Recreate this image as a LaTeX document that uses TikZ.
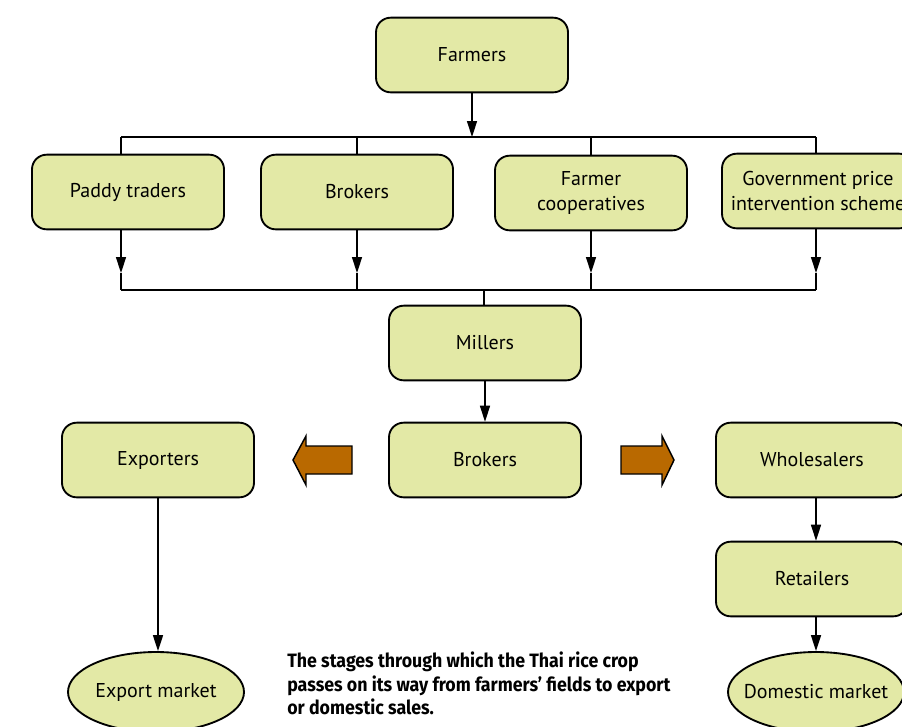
\documentclass[tikz,border=0pt]{standalone}
\usepackage{fontspec}
\setmainfont{PT Sans}
\newfontfamily\capfont[FakeStretch=0.92]{Fira Sans}
\usetikzlibrary{arrows.meta,shapes.geometric}
\definecolor{boxfill}{RGB}{227,233,166}
\definecolor{blockarrow}{RGB}{185,105,0}
\tikzset{
  stagebox/.style={draw=black, line width=1.4pt, fill=boxfill, rounded corners=11pt,
    minimum width=144pt, minimum height=56pt, inner sep=0pt, align=center,
    font=\fontsize{15}{19}\selectfont},
  marketbox/.style={draw=black, line width=1.4pt, fill=boxfill, ellipse,
    minimum width=132pt, minimum height=60pt, inner ysep=0pt, inner xsep=-8pt,
    font=\fontsize{15}{18}\selectfont},
  conn/.style={draw=black, line width=1.1pt},
  arr/.style={conn, -{Triangle[length=12pt,width=7.5pt]}},
  bigarrow/.style={draw=black, line width=1.1pt, fill=blockarrow}
}
\begin{document}
\begin{tikzpicture}[x=0.75pt,y=-0.75pt]
\useasboundingbox (0,0) rectangle (902,726);
% nodes
\node[stagebox] (farmers) at (472,55) {Farmers};
\node[stagebox] (paddy) at (128,192) {Paddy traders};
\node[stagebox] (brokers1) at (357,192) {Brokers};
\node[stagebox] (coop) at (591,193) {Farmer\\cooperatives};
\node[stagebox] (gov) at (818,191) {Government price\\intervention scheme};
\node[stagebox] (millers) at (485,343) {Millers};
\node[stagebox] (brokers2) at (485,460) {Brokers};
\node[stagebox] (exporters) at (158,460) {Exporters};
\node[stagebox] (wholesalers) at (812,460) {Wholesalers};
\node[stagebox] (retailers) at (812,579) {Retailers};
\node[marketbox] (export) at (156,692) {Export market};
\node[marketbox] (domestic) at (816,692) {Domestic market};
% top bus
\coordinate (t1) at (121,137);
\coordinate (t2) at (357,137);
\coordinate (t3) at (591,137);
\coordinate (t4) at (816,137);
\coordinate (tc) at (472,137);
\draw[conn] (t1) -- (t4);
\draw[arr] (farmers.south) -- (tc);
\draw[conn] (t1) -- (t1 |- paddy.north);
\draw[conn] (t2) -- (t2 |- brokers1.north);
\draw[conn] (t3) -- (t3 |- coop.north);
\draw[conn] (t4) -- (t4 |- gov.north);
% bottom bus
\coordinate (b1) at (121,290);
\coordinate (b2) at (357,290);
\coordinate (b3) at (591,290);
\coordinate (b4) at (816,290);
\coordinate (bc) at (484,290);
\coordinate (m1) at (121,273);
\coordinate (m2) at (357,273);
\coordinate (m3) at (591,273);
\coordinate (m4) at (816,273);
\draw[conn] (b1) -- (b4);
\draw[arr] (m1 |- paddy.south) -- (m1);
\draw[arr] (m2 |- brokers1.south) -- (m2);
\draw[arr] (m3 |- coop.south) -- (m3);
\draw[arr] (m4 |- gov.south) -- (m4);
\draw[conn] (m1) -- (b1);
\draw[conn] (m2) -- (b2);
\draw[conn] (m3) -- (b3);
\draw[conn] (m4) -- (b4);
\draw[conn] (bc) -- (bc |- millers.north);
% lower connectors
\draw[arr] (millers.south) -- (brokers2.north);
\draw[arr] (exporters.south) -- (exporters.south |- export.north);
\draw[arr] (wholesalers.south -| domestic.north) -- (retailers.north -| domestic.north);
\draw[arr] (retailers.south -| domestic.north) -- (domestic.north);
% block arrows
\draw[bigarrow] (352,446) -- (306,446) -- (306,436) -- (293,460) -- (306,485) -- (306,474) -- (352,474) -- cycle;
\draw[bigarrow] (621,446) -- (662,446) -- (662,436) -- (674,460) -- (662,485) -- (662,474) -- (621,474) -- cycle;
% caption
\node[anchor=north west, align=left, inner sep=0pt,
  font=\capfont\bfseries\fontsize{14.5}{17.3}\selectfont] (caption) at (287,652)
  {The stages through which the Thai rice crop\\passes on its way from farmers’ fields to export\\or domestic sales.};
\end{tikzpicture}
\end{document}
